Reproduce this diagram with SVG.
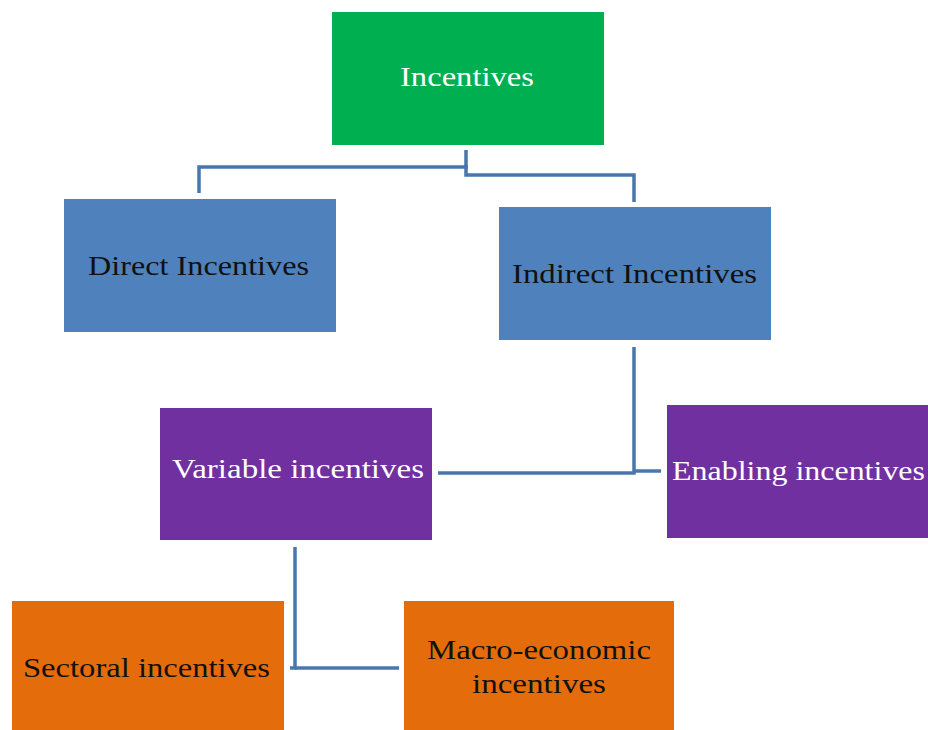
<svg xmlns="http://www.w3.org/2000/svg" width="928" height="730" viewBox="0 0 928 730">
  <style>
    .box-green { fill: #00b050; }
    .box-blue { fill: #4f81bd; }
    .box-purple { fill: #7030a0; }
    .box-orange { fill: #e46c0a; }
    .label { font-family: "Liberation Serif", "Times New Roman", serif; font-size: 28px; text-anchor: middle; }
    .light { fill: #ffffff; }
    .dark { fill: #111111; }
    .link { fill: none; stroke: #4a76ae; stroke-width: 3.5; stroke-linejoin: miter; }
  </style>
  <rect width="928" height="730" fill="#ffffff"/>

  <g id="connectors">
    <!-- Incentives to its two branches -->
    <path class="link" d="M466,150 V167 H199 V193"/>
    <path class="link" d="M466,165 V175 H634 V202"/>
    <!-- Indirect Incentives to Variable and Enabling -->
    <path class="link" d="M634,347 V473 H438"/>
    <path class="link" d="M634,471 H661"/>
    <!-- Variable incentives to Sectoral and Macro-economic -->
    <path class="link" d="M295,547 V668 H290"/>
    <path class="link" d="M295,668 H399"/>
  </g>

  <g id="incentives">
    <rect class="box-green" x="332" y="12" width="272" height="133"/>
    <text class="label light" x="467" y="86" textLength="134" lengthAdjust="spacingAndGlyphs">Incentives</text>
  </g>

  <g id="direct-incentives">
    <rect class="box-blue" x="64" y="199" width="272" height="133"/>
    <text class="label dark" x="198.5" y="275" textLength="221" lengthAdjust="spacingAndGlyphs">Direct Incentives</text>
  </g>

  <g id="indirect-incentives">
    <rect class="box-blue" x="499" y="207" width="272" height="133"/>
    <text class="label dark" x="634.5" y="283" textLength="245" lengthAdjust="spacingAndGlyphs">Indirect Incentives</text>
  </g>

  <g id="variable-incentives">
    <rect class="box-purple" x="160" y="408" width="272" height="132"/>
    <text class="label light" x="298" y="478" textLength="252" lengthAdjust="spacingAndGlyphs">Variable incentives</text>
  </g>

  <g id="enabling-incentives">
    <rect class="box-purple" x="667" y="405" width="272" height="133"/>
    <text class="label light" x="798.5" y="480" textLength="253" lengthAdjust="spacingAndGlyphs">Enabling incentives</text>
  </g>

  <g id="sectoral-incentives">
    <rect class="box-orange" x="12" y="601" width="272" height="133"/>
    <text class="label dark" x="146.5" y="677" textLength="247" lengthAdjust="spacingAndGlyphs">Sectoral incentives</text>
  </g>

  <g id="macro-economic-incentives">
    <rect class="box-orange" x="404" y="601" width="270" height="133"/>
    <text class="label dark" x="539" y="659" textLength="224" lengthAdjust="spacingAndGlyphs">Macro-economic</text>
    <text class="label dark" x="539" y="693" textLength="134" lengthAdjust="spacingAndGlyphs">incentives</text>
  </g>
</svg>
